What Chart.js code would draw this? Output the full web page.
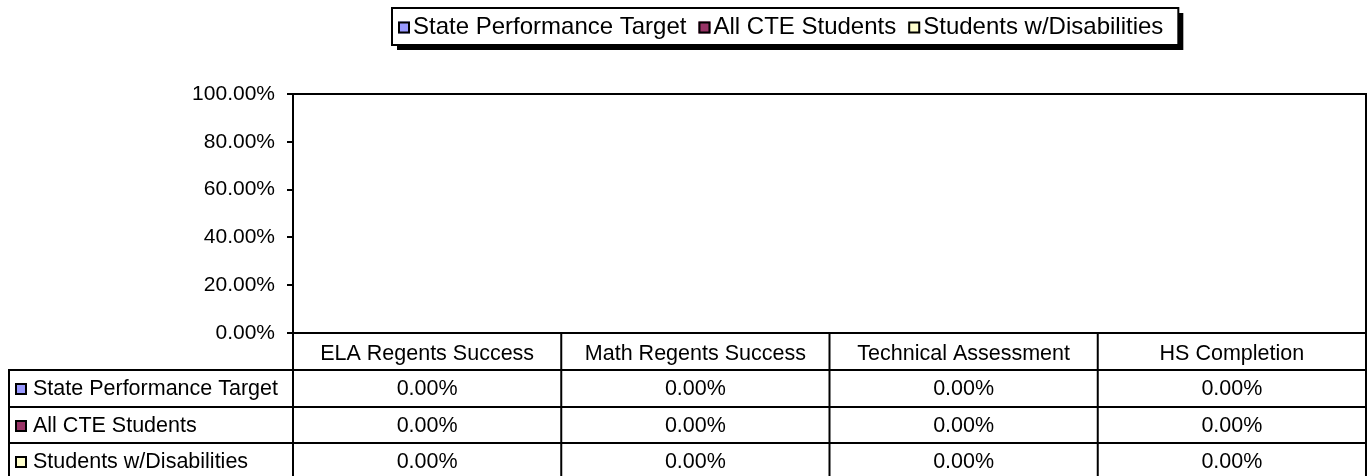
<!DOCTYPE html>
<html>
<head>
<meta charset="utf-8">
<title>CTE Performance</title>
<script src="https://cdn.jsdelivr.net/npm/chart.js@4"></script>
<style>
    html, body { margin: 0; padding: 0; background: #fff; }
    #wrap { width: 1372px; height: 476px; position: relative; }
</style>
</head>
<body>
<div id="wrap"><canvas id="perfChart" width="1372" height="476"></canvas></div>
<script>
const categories = ["ELA Regents Success", "Math Regents Success", "Technical Assessment", "HS Completion"];
const seriesNames = ["State Performance Target", "All CTE Students", "Students w/Disabilities"];
const targetValues = [0, 0, 0, 0];
const allCteValues = [0, 0, 0, 0];
const disabilityValues = [0, 0, 0, 0];
const seriesColors = ["#9999FF", "#993366", "#FFFFCC"];
const yTicks = [0, 0.2, 0.4, 0.6, 0.8, 1.0];

const FONT = "Liberation Sans, Arial, sans-serif";
const pct = v => (v * 100).toFixed(2) + "%";

function keySquare(ctx, x, yMid, color) {
    ctx.fillStyle = color;
    ctx.fillRect(x, yMid - 6, 12, 12);
    ctx.lineWidth = 2;
    ctx.strokeStyle = "#000";
    ctx.strokeRect(x + 1, yMid - 5, 10, 10);
}

// legend box + data table under the plot, both drawn by hand like the Excel original
const tablePlugin = {
    id: "excelTable",
    afterDraw(chart) {
        const ctx = chart.ctx;
        const area = chart.chartArea;
        const xs = chart.scales.x;
        const rowTops = [area.bottom, 370, 407, 443, 480];
        const tableLeft = 9;

        ctx.save();
        ctx.strokeStyle = "#000";
        ctx.lineWidth = 2;

        // plot frame
        ctx.strokeRect(area.left, area.top, area.right - area.left, area.bottom - area.top);

        // column boundaries
        const step = xs.getPixelForValue(1) - xs.getPixelForValue(0);
        const bounds = [area.left];
        categories.forEach((c, i) => bounds.push(xs.getPixelForValue(i) + step / 2));
        bounds[bounds.length - 1] = area.right;

        ctx.beginPath();
        bounds.forEach(x => {
            ctx.moveTo(x, rowTops[0]);
            ctx.lineTo(x, 476);
        });
        ctx.moveTo(tableLeft, rowTops[1]);
        ctx.lineTo(tableLeft, 476);
        for (let r = 1; r < 4; r++) {
            ctx.moveTo(tableLeft - 1, rowTops[r]);
            ctx.lineTo(area.right + 1, rowTops[r]);
        }
        ctx.stroke();

        // rows
        ctx.font = "21.5px " + FONT;
        ctx.textBaseline = "middle";
        chart.data.datasets.forEach((ds, r) => {
            const yMid = rowTops[r + 1] + 19;
            keySquare(ctx, 15, yMid, ds.backgroundColor);
            ctx.fillStyle = "#000";
            ctx.textAlign = "left";
            ctx.fillText(ds.label, 33, yMid);
            ctx.textAlign = "center";
            ds.data.forEach((v, i) => {
                ctx.fillText(pct(v), xs.getPixelForValue(i), yMid);
            });
        });

        // legend
        ctx.font = "24px " + FONT;
        ctx.textAlign = "left";
        const boxLeft = 392, boxTop = 8, boxH = 37;
        const items = chart.data.datasets.map(ds => ({ label: ds.label, color: ds.backgroundColor, w: ctx.measureText(ds.label).width }));
        const itemGap = 12;
        const boxW = items.reduce((s, it) => s + 15 + it.w, 6) + itemGap * (items.length - 1) + 15;
        ctx.fillStyle = "#000";
        ctx.fillRect(boxLeft + 5, boxTop + 5, boxW, boxH);
        ctx.fillStyle = "#fff";
        ctx.fillRect(boxLeft, boxTop, boxW, boxH);
        ctx.lineWidth = 2;
        ctx.strokeRect(boxLeft, boxTop, boxW, boxH);
        const ly = boxTop + boxH / 2 + 1;
        let x = boxLeft + 6;
        items.forEach(it => {
            keySquare(ctx, x, ly, it.color);
            ctx.fillStyle = "#000";
            ctx.fillText(it.label, x + 15, ly);
            x += 15 + it.w + itemGap;
        });
        ctx.restore();
    }
};

const ctx = document.getElementById("perfChart").getContext("2d");
const perfChart = new Chart(ctx, {
    type: "bar",
    data: {
        labels: categories,
        datasets: [
            { label: seriesNames[0], data: targetValues, backgroundColor: seriesColors[0], borderColor: "#000", borderWidth: 1 },
            { label: seriesNames[1], data: allCteValues, backgroundColor: seriesColors[1], borderColor: "#000", borderWidth: 1 },
            { label: seriesNames[2], data: disabilityValues, backgroundColor: seriesColors[2], borderColor: "#000", borderWidth: 1 }
        ]
    },
    options: {
        responsive: false,
        animation: false,
        layout: { padding: { top: 94, right: 6, left: 0, bottom: 0 } },
        plugins: {
            legend: { display: false },
            tooltip: { enabled: false }
        },
        scales: {
            x: {
                afterFit(scale) { scale.height = 143; },
                grid: { display: false, drawTicks: false },
                border: { display: true, color: "#000", width: 2 },
                ticks: {
                    color: "#000",
                    font: { family: FONT, size: 21.5 },
                    padding: 8,
                    maxRotation: 0
                }
            },
            y: {
                min: 0,
                max: 1,
                afterFit(scale) { scale.width = 293; },
                afterBuildTicks(scale) { scale.ticks = yTicks.map(v => ({ value: v })); },
                grid: { drawOnChartArea: false, drawTicks: true, tickLength: 6, color: "#000", lineWidth: 2 },
                border: { display: true, color: "#000", width: 2 },
                ticks: {
                    color: "#000",
                    font: { family: FONT, size: 21 },
                    padding: 12,
                    callback: v => pct(v)
                }
            }
        }
    },
    plugins: [tablePlugin]
});
</script>
</body>
</html>
